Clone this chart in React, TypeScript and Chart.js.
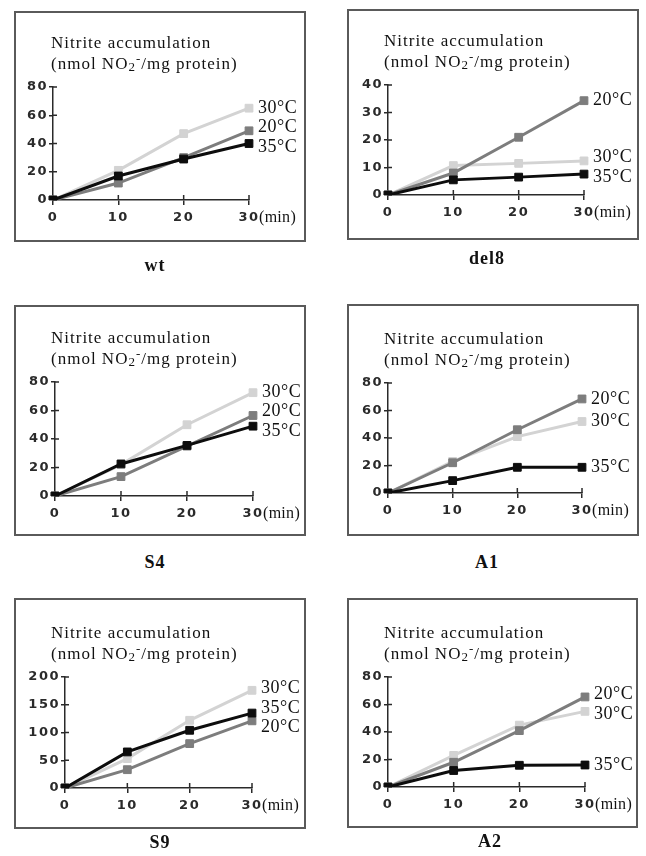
import React, { useEffect, useRef } from "react";
import { Chart, registerables } from "chart.js";
Chart.register(...registerables);

// time points (min)
const times = ["0", "10", "20", "30"];
const tempNames = { t20: "20°C", t30: "30°C", t35: "35°C" };

// Nitrite accumulation (nmol NO2-/mg protein)
const wt20 = [0, 12, 30, 49];
const wt30 = [0, 21, 47, 65];
const wt35 = [0, 17, 29, 40];

const del8_20 = [0, 8, 21, 34.3];
const del8_30 = [0, 10.7, 11.5, 12.4];
const del8_35 = [0, 5.5, 6.5, 7.6];

const s4_20 = [0, 13.6, 35, 56.5];
const s4_30 = [0, 22, 50, 72.5];
const s4_35 = [0, 22.5, 35.5, 49];

const a1_20 = [0, 22, 46, 68.4];
const a1_30 = [0, 23, 41, 52];
const a1_35 = [0, 9, 18.7, 18.7];

const s9_20 = [0, 33, 80, 121];
const s9_30 = [0, 53, 122, 176];
const s9_35 = [0, 65, 104, 135];

const a2_20 = [0, 18, 41, 65.5];
const a2_30 = [0, 23, 45, 55];
const a2_35 = [0, 12, 15.8, 16];

const COLOR20 = "#7d7d7d";
const COLOR30 = "#d3d3d3";
const COLOR35 = "#0d0d0d";
const AXIS = "#2a2a2a";

type PanelCfg = {
  name: string;
  d20: number[];
  d30: number[];
  d35: number[];
  yMax: number;
  yStep: number;
  box: [number, number, number, number]; // left, top, w, h
  area: [number, number, number, number]; // left, top, right, bottom (relative)
  nameAt: [number, number];
};

const panels: PanelCfg[] = [
  { name: "wt", d20: wt20, d30: wt30, d35: wt35, yMax: 80, yStep: 20, box: [14, 11, 292, 231], area: [39, 76, 235, 189], nameAt: [155, 265] },
  { name: "del8", d20: del8_20, d30: del8_30, d35: del8_35, yMax: 40, yStep: 10, box: [347, 9, 292, 231], area: [41, 76, 237, 186], nameAt: [487, 258] },
  { name: "S4", d20: s4_20, d30: s4_30, d35: s4_35, yMax: 80, yStep: 20, box: [14, 305, 292, 231], area: [41, 77, 239, 191], nameAt: [155, 562] },
  { name: "A1", d20: a1_20, d30: a1_30, d35: a1_35, yMax: 80, yStep: 20, box: [347, 304, 292, 232], area: [41, 79, 235, 189], nameAt: [487, 562] },
  { name: "S9", d20: s9_20, d30: s9_30, d35: s9_35, yMax: 200, yStep: 50, box: [14, 598, 292, 231], area: [51, 79, 238, 190], nameAt: [160, 842] },
  { name: "A2", d20: a2_20, d30: a2_30, d35: a2_35, yMax: 80, yStep: 20, box: [347, 598, 291, 230], area: [41, 79, 238, 189], nameAt: [490, 841] },
];

function spread(ys: number[], gap: number): number[] {
  const order = ys.map((_, i) => i).sort((a, b) => ys[a] - ys[b]);
  let groups = order.map((i) => ({ members: [i], sum: ys[i] }));
  const top = (g: { members: number[]; sum: number }) =>
    g.sum / g.members.length - ((g.members.length - 1) * gap) / 2;
  let changed = true;
  while (changed) {
    changed = false;
    for (let g = 0; g < groups.length - 1; g++) {
      const A = groups[g];
      const B = groups[g + 1];
      const aBottom = top(A) + (A.members.length - 1) * gap;
      if (top(B) - aBottom < gap) {
        groups.splice(g, 2, { members: [...A.members, ...B.members], sum: A.sum + B.sum });
        changed = true;
        break;
      }
    }
  }
  const out = new Array(ys.length).fill(0);
  groups.forEach((g) => {
    const t = top(g);
    g.members.forEach((m, k) => (out[m] = t + k * gap));
  });
  return out;
}

const SERIF = '"Liberation Serif", "Times New Roman", serif';
const TICKFONT = { family: '"DejaVu Sans", sans-serif', size: 13, weight: "bold" as const };

function Panel({ cfg }: { cfg: PanelCfg }) {
  const ref = useRef<HTMLCanvasElement>(null);
  const [L, T, W, H] = cfg.box;
  const [aL, aT, aR, aB] = cfg.area;

  useEffect(() => {
    if (!ref.current) return;
    const deco = {
      id: "deco",
      beforeDraw(chart: any) {
        chart.ctx.letterSpacing = "1.5px";
      },
      beforeDatasetsDraw(chart: any) {
        const { ctx, chartArea, scales } = chart;
        ctx.letterSpacing = "0px";
        ctx.save();
        ctx.strokeStyle = AXIS;
        ctx.lineWidth = 1.5;
        scales.x.ticks.forEach((_: any, i: number) => {
          const px = scales.x.getPixelForTick(i);
          ctx.beginPath();
          ctx.moveTo(px, chartArea.bottom);
          ctx.lineTo(px, chartArea.bottom - 5);
          ctx.stroke();
        });
        scales.y.ticks.forEach((_: any, i: number) => {
          const py = scales.y.getPixelForTick(i);
          ctx.beginPath();
          ctx.moveTo(chartArea.left, py);
          ctx.lineTo(chartArea.left + 4, py);
          ctx.stroke();
        });
        ctx.restore();
      },
      afterDraw(chart: any) {
        const { ctx, chartArea, scales } = chart;
        ctx.save();
        ctx.fillStyle = "#111";
        ctx.textBaseline = "middle";
        ctx.textAlign = "left";
        ctx.letterSpacing = "1px";
        // y title
        ctx.font = `17px ${SERIF}`;
        const tx = 37;
        ctx.fillText("Nitrite accumulation", tx, chartArea.top - 43);
        let x = tx;
        const y2 = chartArea.top - 22;
        const seg = (s: string, font: string, dy: number) => {
          ctx.font = font;
          ctx.fillText(s, x, y2 + dy);
          x += ctx.measureText(s).width;
        };
        seg("(nmol NO", `17px ${SERIF}`, 0);
        seg("2", `13px ${SERIF}`, 3);
        seg("-", `13px ${SERIF}`, -5);
        seg("/mg protein)", `17px ${SERIF}`, 0);
        // (min)
        ctx.letterSpacing = "0.3px";
        ctx.font = `16px ${SERIF}`;
        ctx.fillText("(min)", chartArea.right + 10, chartArea.bottom + 18);
        // end labels
        ctx.letterSpacing = "0.5px";
        ctx.font = `18px ${SERIF}`;
        const ds = chart.data.datasets;
        const ys = ds.map((d: any) => scales.y.getPixelForValue(d.data[d.data.length - 1]));
        const placed = spread(ys, 19.5);
        ds.forEach((d: any, i: number) => {
          ctx.fillText(d.label, chartArea.right + 9, placed[i]);
        });
        ctx.restore();
      },
    };

    const mk = (label: string, data: number[], color: string) => ({
      label,
      data,
      borderColor: color,
      backgroundColor: color,
      borderWidth: 3,
      pointStyle: "rect" as const,
      pointRadius: 5.5,
      pointBorderWidth: 1,
      pointBackgroundColor: color,
      pointBorderColor: color,
      tension: 0,
      fill: false,
    });

    const chart = new Chart(ref.current, {
      type: "line",
      data: {
        labels: times,
        datasets: [
          mk(tempNames.t35, cfg.d35, COLOR35),
          mk(tempNames.t20, cfg.d20, COLOR20),
          mk(tempNames.t30, cfg.d30, COLOR30),
        ],
      },
      options: {
        animation: false,
        responsive: false,
        maintainAspectRatio: false,
        devicePixelRatio: 1,
        events: [],
        layout: { padding: { left: 0, top: aT, right: W - aR, bottom: 0 } },
        plugins: { legend: { display: false }, tooltip: { enabled: false }, title: { display: false } },
        scales: {
          x: {
            type: "category",
            offset: false,
            grid: { drawOnChartArea: false, drawTicks: true, tickLength: 5, color: AXIS, lineWidth: 1.5 },
            border: { display: true, color: AXIS, width: 1.5 },
            ticks: { font: TICKFONT, color: AXIS, padding: 5, maxRotation: 0, autoSkip: false },
            afterFit: (s: any) => {
              s.height = H - aB;
            },
          },
          y: {
            min: 0,
            max: cfg.yMax,
            grid: { drawOnChartArea: false, drawTicks: true, tickLength: 4, color: AXIS, lineWidth: 1.5 },
            border: { display: true, color: AXIS, width: 1.5 },
            ticks: { stepSize: cfg.yStep, font: TICKFONT, color: AXIS, padding: 1 },
            afterFit: (s: any) => {
              s.width = aL;
            },
          },
        },
      },
      plugins: [deco],
    } as any);
    return () => chart.destroy();
  }, []);

  return (
    <>
      <canvas
        ref={ref}
        width={W}
        height={H}
        style={{ position: "absolute", left: L, top: T, width: W, height: H }}
      />
      <div
        style={{
          position: "absolute",
          left: L,
          top: T,
          width: W,
          height: H,
          boxSizing: "border-box",
          border: "2px solid #5a5a5a",
          pointerEvents: "none",
        }}
      />
      <div
        style={{
          position: "absolute",
          left: cfg.nameAt[0],
          top: cfg.nameAt[1],
          transform: "translate(-50%, -50%)",
          font: `bold 18px ${SERIF}`,
          letterSpacing: "1px",
          lineHeight: 1,
          color: "#111",
          whiteSpace: "nowrap",
        }}
      >
        {cfg.name}
      </div>
    </>
  );
}

export default function App() {
  return (
    <div style={{ position: "absolute", left: 0, top: 0, width: 646, height: 856, background: "#fff", overflow: "hidden" }}>
      {panels.map((p) => (
        <Panel key={p.name} cfg={p} />
      ))}
    </div>
  );
}
